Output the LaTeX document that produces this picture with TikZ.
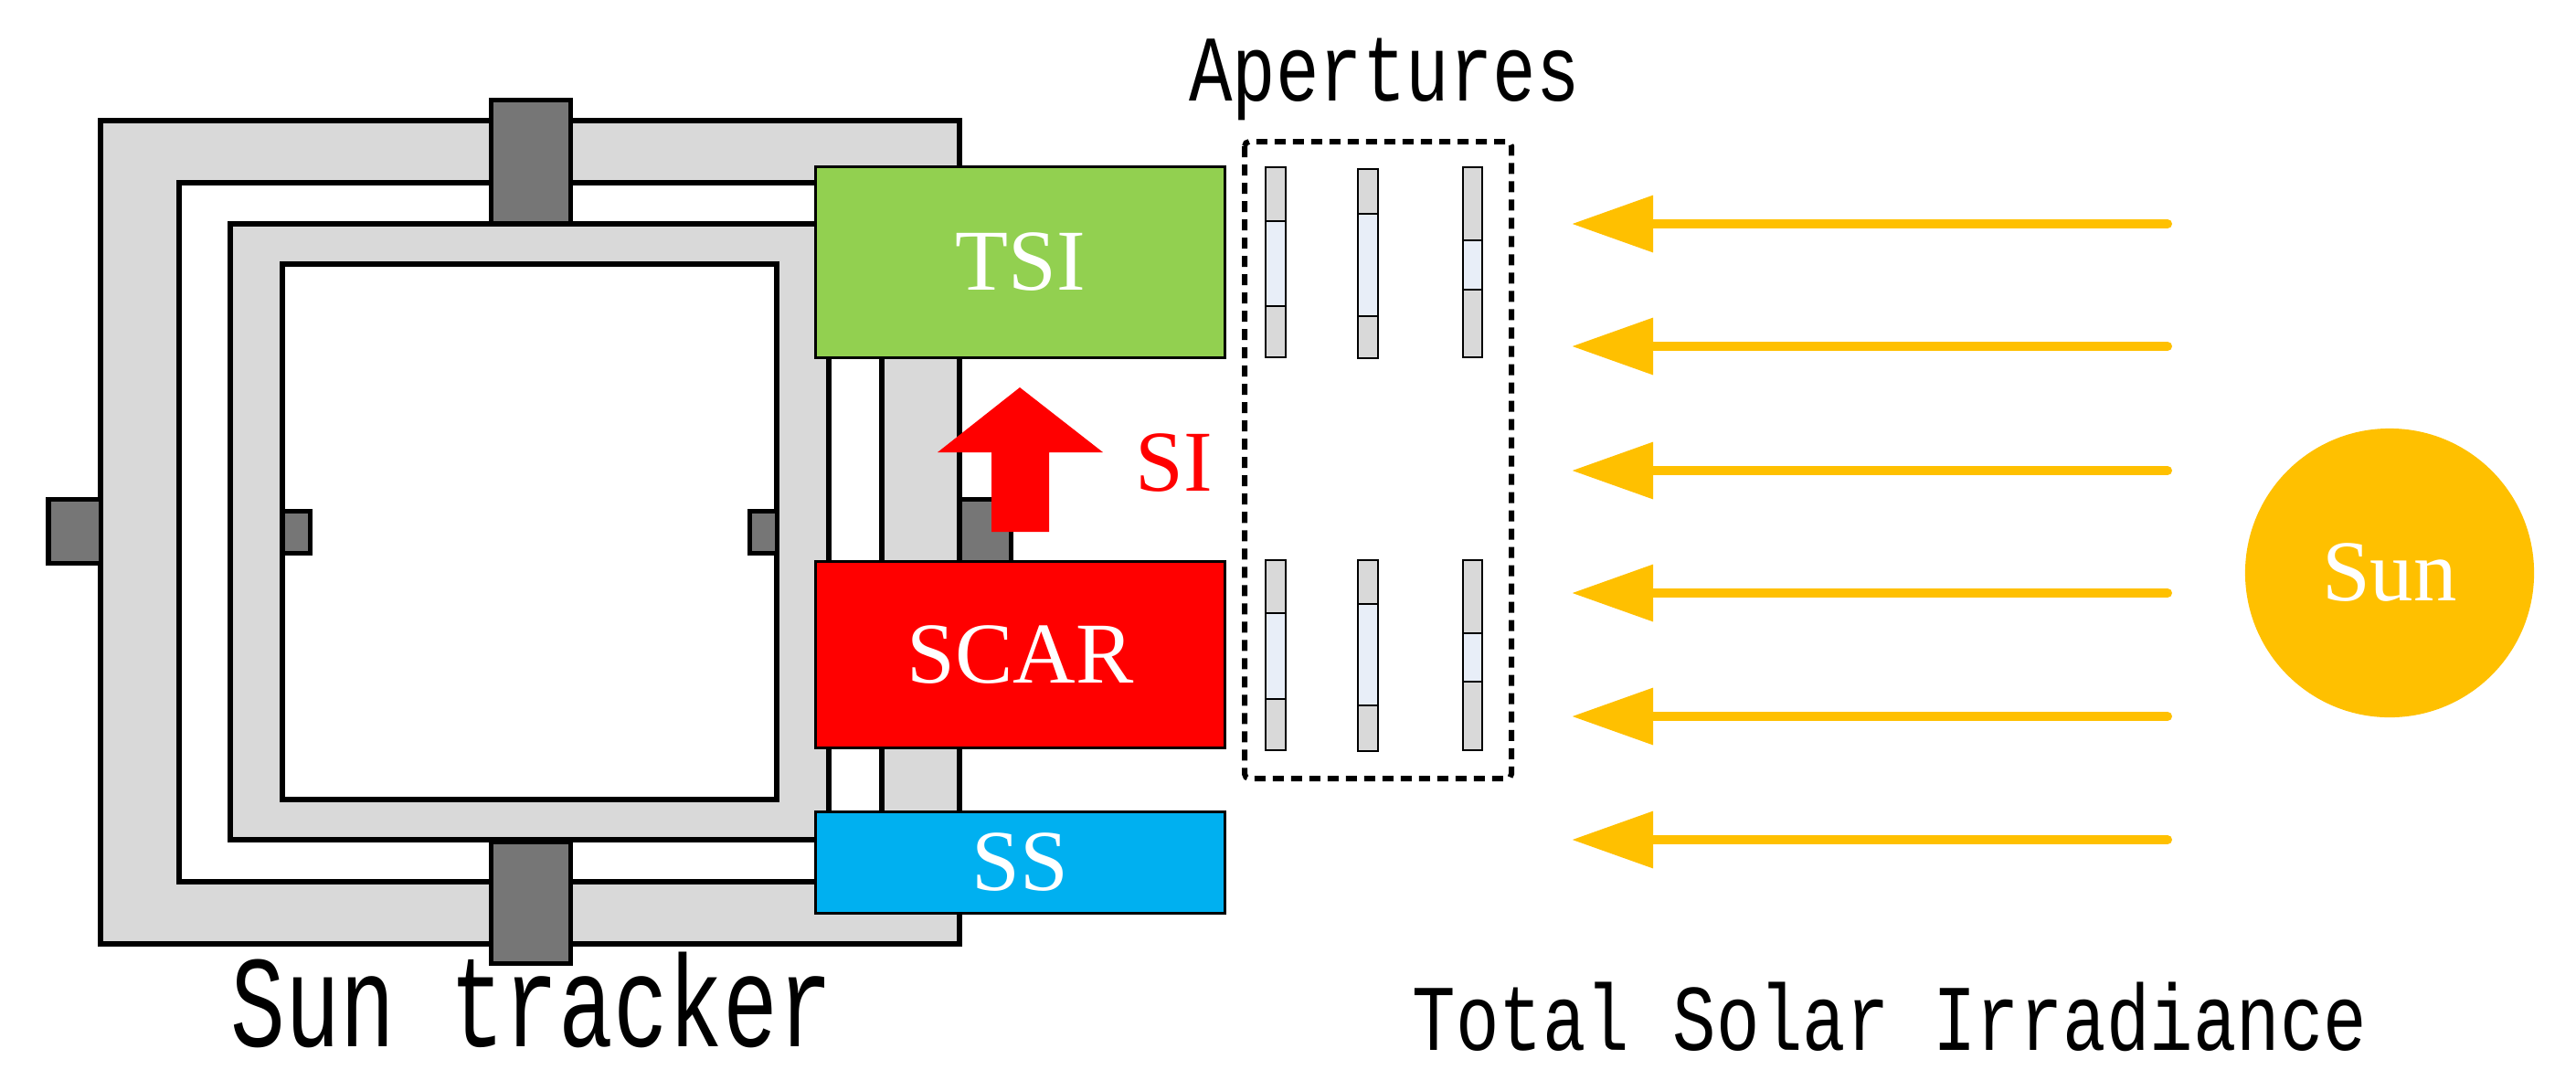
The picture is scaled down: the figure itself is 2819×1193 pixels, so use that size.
\documentclass[tikz,border=0pt]{standalone}
\usepackage{fontspec}
\setmainfont{Liberation Serif}
\newfontfamily\monofont{Liberation Mono}
\usetikzlibrary{arrows.meta}
\definecolor{tsig}{HTML}{92D050}
\definecolor{scarr}{HTML}{FF0000}
\definecolor{ssb}{HTML}{00B0F0}
\definecolor{gold}{HTML}{FFC000}
\definecolor{lg}{HTML}{D9D9D9}
\definecolor{dg}{HTML}{767676}
\definecolor{lb}{HTML}{E8EEF8}
\tikzset{
  frame/.style={draw=black,line width=0.06cm,fill=lg},
  hole/.style={draw=black,line width=0.06cm,fill=white},
  knob/.style={draw=black,line width=0.05cm,fill=dg},
  box/.style={draw=black,line width=0.03cm,inner sep=0,outer sep=0,minimum width=4.47cm,text=white,font=\fontsize{27}{30}\selectfont},
  bar/.style={draw=black,line width=0.025cm},
  ray/.style={draw=gold,line width=0.1cm,line cap=round,-{Triangle[length=0.89cm,width=0.6cm]}},
  lbl/.style={font=\monofont\fontsize{22.5}{26}\selectfont,inner sep=0,anchor=base,yscale=1.3},
}
\newcommand{\aperbar}[6]{% x1 x2 top bottom d1 d2
  \filldraw[bar,fill=lg] (#1,#3) rectangle (#2,#4);
  \filldraw[bar,fill=lb] (#1,#5) rectangle (#2,#6);
}
\begin{document}
\begin{tikzpicture}[x=0.01cm,y=-0.01cm]
\useasboundingbox (0,0) rectangle (2819,1193);
% sun tracker
\filldraw[frame] (110,132) rectangle (1050,1033);
\filldraw[hole] (196,200) rectangle (965,965);
\filldraw[frame] (252,245) rectangle (907,919);
\filldraw[hole] (309,289) rectangle (850,875);
\filldraw[knob] (537,109) rectangle (624,244);
\filldraw[knob] (537,921) rectangle (624,1054);
\filldraw[knob] (53,546) rectangle (110,616);
\filldraw[knob] (1050,546) rectangle (1106,616);
\filldraw[knob] (309,559) rectangle (339,605);
\filldraw[knob] (820,559) rectangle (850,605);
\node[lbl,font=\monofont\fontsize{28.4}{32}\selectfont,yscale=1.1] (trk) at (582,1145) {Sun tracker};
% boxes
\node[box,fill=tsig,minimum height=2.08cm] (tsi) at (1116.5,287) {TSI};
\node[box,fill=scarr,minimum height=2.03cm] (scar) at (1116.5,716.5) {SCAR};
\node[box,fill=ssb,minimum height=1.10cm] (ss) at (1116.5,944) {SS};
% SI arrow
\fill[scarr] (1085,582) -- (1085,495) -- (1026,495) -- (1116,424) -- (1207,495) -- (1148,495) -- (1148,582) -- cycle;
\node[text=scarr,font=\fontsize{27}{30}\selectfont,inner sep=0,anchor=base] (si) at (1285,537) {SI};
% apertures
\node[lbl] (ap) at (1515,110) {Apertures};
\draw[line width=0.06cm,dash pattern=on 0.12cm off 0.08cm,rounded corners=0.05cm] (1362,155) rectangle (1654,852);
\aperbar{1385}{1407}{183}{391}{242}{335}
\aperbar{1486}{1508}{185}{392}{234}{346}
\aperbar{1601}{1622}{183}{391}{263}{317}
\aperbar{1385}{1407}{613}{821}{671}{765}
\aperbar{1486}{1508}{613}{822}{661}{772}
\aperbar{1601}{1622}{613}{821}{693}{746}
% rays
\foreach \y [count=\i] in {245,379,515,649,784,919}{
  \coordinate (s\i) at (2372,\y);
  \coordinate (e\i) at (1720,\y);
  \draw[ray] (s\i) -- (e\i);
}
% sun
\fill[gold] (2615,627) circle (1.58cm);
\node[text=white,font=\fontsize{27}{30}\selectfont,inner sep=0] (sun) at (2615,627) {Sun};
\node[lbl] (tsil) at (2068,1149) {Total Solar Irradiance};
\end{tikzpicture}
\end{document}
